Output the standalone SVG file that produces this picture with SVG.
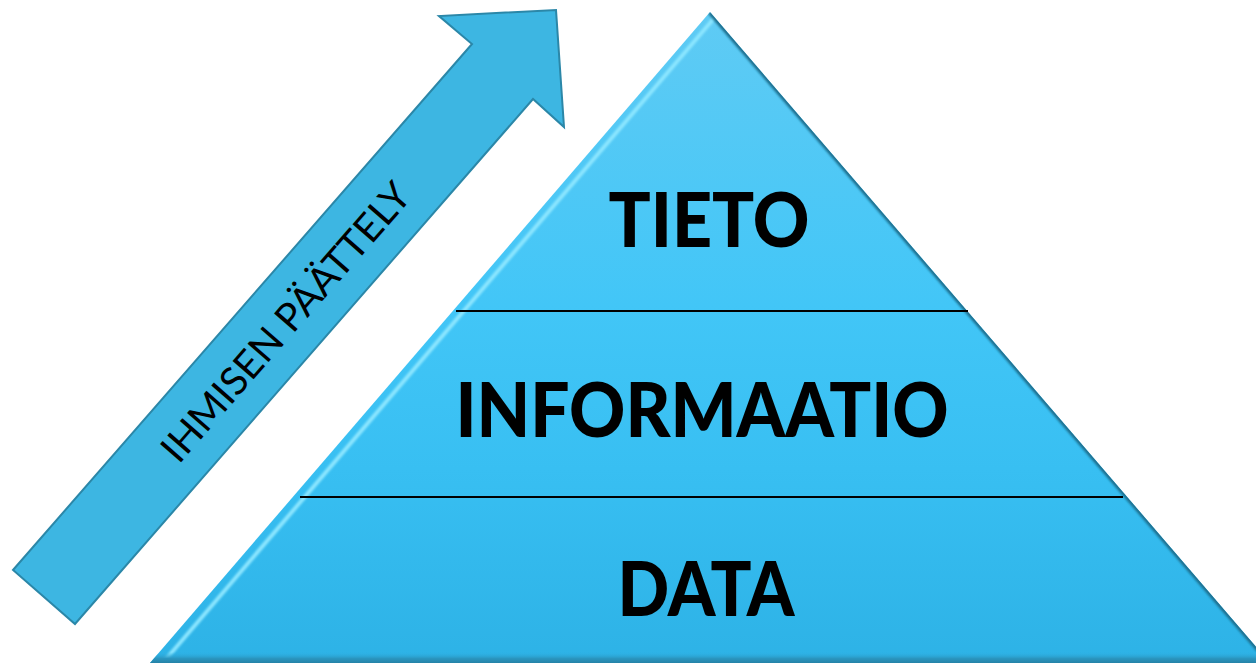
<svg xmlns="http://www.w3.org/2000/svg" width="1256" height="665" viewBox="0 0 1256 665">
  <style>
    .lvl { font-family: Lato, "Open Sans", "Liberation Sans", sans-serif; font-weight: 900; font-size: 77px; fill: #000; }
    .arrowtxt { font-family: Lato, "Open Sans", "Liberation Sans", sans-serif; font-size: 39px; fill: #000; }
    .sep { stroke: #000; stroke-width: 2; }
  </style>
  <defs>
    <linearGradient id="pyrFill" x1="0" y1="12" x2="0" y2="665" gradientUnits="userSpaceOnUse">
      <stop offset="0" stop-color="#5fcbf4"/>
      <stop offset="0.45" stop-color="#42c6f7"/>
      <stop offset="0.7" stop-color="#38bff2"/>
      <stop offset="1" stop-color="#2db2e6"/>
    </linearGradient>
    <linearGradient id="bottomEdge" x1="0" y1="652" x2="0" y2="665" gradientUnits="userSpaceOnUse">
      <stop offset="0" stop-color="#2db2e6" stop-opacity="0"/>
      <stop offset="0.5" stop-color="#2a95bf"/>
      <stop offset="1" stop-color="#237a9c"/>
    </linearGradient>
    <clipPath id="pyrClip">
      <polygon points="710,12 150,663 1270,663"/>
    </clipPath>
    <filter id="soft" x="-5%" y="-5%" width="110%" height="110%">
      <feGaussianBlur stdDeviation="1.2"/>
    </filter>
  </defs>

  <g id="arrow">
    <polygon points="13,570 472,44 439,16 556,10 564,127 533,99 75,624" fill="#3db6e2" stroke="#2b87a8" stroke-width="2" stroke-linejoin="miter"/>
    <text class="arrowtxt" x="0" y="0" text-anchor="middle" textLength="356" lengthAdjust="spacingAndGlyphs" transform="translate(296,331) rotate(-48.8)">IHMISEN PÄÄTTELY</text>
  </g>

  <g id="pyramid">
    <polygon points="710,12 150,663 1270,663" fill="url(#pyrFill)"/>
    <g clip-path="url(#pyrClip)">
      <line x1="710" y1="16" x2="155" y2="665" stroke="#8be6ff" stroke-width="4" filter="url(#soft)" transform="translate(6,0)"/>
      <line x1="710" y1="12" x2="1270" y2="663" stroke="#1f6f8f" stroke-width="5" filter="url(#soft)"/>
      <rect x="140" y="652" width="1130" height="13" fill="url(#bottomEdge)"/>
    </g>
  </g>

  <g id="connectors">
    <line class="sep" x1="456" y1="311" x2="968" y2="311"/>
    <line class="sep" x1="300" y1="497" x2="1123" y2="497"/>
  </g>

  <g id="level-tieto">
    <text class="lvl" x="709" y="247" text-anchor="middle" textLength="201" lengthAdjust="spacingAndGlyphs">TIETO</text>
  </g>
  <g id="level-informaatio">
    <text class="lvl" x="702" y="437" text-anchor="middle" textLength="493" lengthAdjust="spacingAndGlyphs">INFORMAATIO</text>
  </g>
  <g id="level-data">
    <text class="lvl" x="706" y="616" text-anchor="middle" textLength="177" lengthAdjust="spacingAndGlyphs">DATA</text>
  </g>
</svg>
